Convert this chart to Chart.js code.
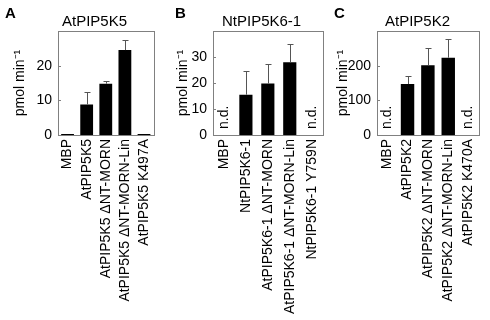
<!DOCTYPE html>
<html>
<head>
<meta charset="utf-8">
<script src="https://cdn.jsdelivr.net/npm/chart.js@4.4.1/dist/chart.umd.min.js"></script>
<style>
  html, body { margin: 0; padding: 0; background: #fff; }
  body { position: relative; width: 490px; height: 320px; overflow: hidden; }
  canvas { position: absolute; top: 0; }
</style>
</head>
<body>
<canvas id="chartA" width="165" height="320" style="left:0px;width:165px;height:320px"></canvas>
<canvas id="chartB" width="168" height="320" style="left:165px;width:168px;height:320px"></canvas>
<canvas id="chartC" width="157" height="320" style="left:333px;width:157px;height:320px"></canvas>
<script>
// Panel A - AtPIP5K5
const labelsA = ['MBP', 'AtPIP5K5', 'AtPIP5K5 ΔNT-MORN', 'AtPIP5K5 ΔNT-MORN-Lin', 'AtPIP5K5 K497A'];
const valuesA = [0.3, 8.8, 14.8, 24.5, 0.3];
const errorsA = [0, 3.6, 0.9, 2.9, 0];
const ticksA = [0, 10, 20];

// Panel B - NtPIP5K6-1 (null = n.d.)
const labelsB = ['MBP', 'NtPIP5K6-1', 'AtPIP5K6-1 ΔNT-MORN', 'AtPIP5K6-1 ΔNT-MORN-Lin', 'NtPIP5K6-1 Y759N'];
const valuesB = [null, 15.5, 19.8, 28, null];
const errorsB = [0, 9.1, 7.4, 7, 0];
const ticksB = [0, 10, 20, 30];

// Panel C - AtPIP5K2 (null = n.d.)
const labelsC = ['MBP', 'AtPIP5K2', 'AtPIP5K2 ΔNT-MORN', 'AtPIP5K2 ΔNT-MORN-Lin', 'AtPIP5K2 K470A'];
const valuesC = [null, 147, 201, 223, null];
const errorsC = [0, 22, 49, 53, 0];
const ticksC = [0, 100, 200];

const FONT = 'Arial, "Liberation Sans", Helvetica, sans-serif';

// draws frame, inner ticks, error bars, n.d. marks, title and panel letter
const panelDecor = {
    id: 'panelDecor',
    afterDatasetsDraw(chart) {
        const ctx = chart.ctx;
        const area = chart.chartArea;
        const x = chart.scales.x;
        const y = chart.scales.y;
        const p = chart.options.plugins.panelDecor;

        // error bars
        ctx.save();
        ctx.strokeStyle = '#555';
        ctx.lineWidth = 1;
        p.values.forEach(function (v, i) {
            if (v === null || !p.errors[i]) return;
            const cx = Math.round(x.getPixelForValue(i)) + 0.5;
            const y0 = y.getPixelForValue(v);
            const y1 = Math.round(y.getPixelForValue(v + p.errors[i])) + 0.5;
            ctx.beginPath();
            ctx.moveTo(cx, y0);
            ctx.lineTo(cx, y1);
            ctx.moveTo(cx - 3, y1);
            ctx.lineTo(cx + 3, y1);
            ctx.stroke();
        });

        // n.d. labels
        ctx.fillStyle = '#000';
        ctx.font = '14px ' + FONT;
        ctx.textAlign = 'left';
        ctx.textBaseline = 'middle';
        p.values.forEach(function (v, i) {
            if (v !== null) return;
            const cx = x.getPixelForValue(i);
            ctx.save();
            ctx.translate(cx, y.getPixelForValue(0) - 6);
            ctx.rotate(-Math.PI / 2);
            ctx.fillText('n.d.', 0, 0);
            ctx.restore();
        });

        // frame
        ctx.strokeStyle = '#808080';
        ctx.strokeRect(Math.round(area.left) + 0.5, Math.round(area.top) + 0.5,
            Math.round(area.right - area.left), Math.round(area.bottom - area.top));

        // inward tick marks
        y.ticks.forEach(function (t) {
            const ty = Math.round(y.getPixelForValue(t.value)) + 0.5;
            ctx.beginPath();
            ctx.moveTo(area.left, ty);
            ctx.lineTo(area.left + 3, ty);
            ctx.stroke();
        });

        // title
        ctx.fillStyle = '#000';
        ctx.font = '15px ' + FONT;
        ctx.textBaseline = 'alphabetic';
        ctx.fillText(p.title, area.left + p.titleDx, 26);

        // panel letter
        ctx.font = 'bold 15px ' + FONT;
        ctx.fillText(p.letter, p.letterX, 18);
        ctx.restore();
    }
};

function makePanel(canvasId, labels, values, errors, ticks, max, opts) {
    const ctx = document.getElementById(canvasId).getContext('2d');
    return new Chart(ctx, {
        type: 'bar',
        data: {
            labels: labels,
            datasets: [{
                data: values,
                backgroundColor: '#000',
                borderWidth: 0,
                barPercentage: opts.barPct,
                categoryPercentage: 1
            }]
        },
        options: {
            responsive: false,
            animation: false,
            layout: { padding: { left: 0, right: opts.padRight, top: 31, bottom: 0 } },
            plugins: {
                legend: { display: false },
                tooltip: { enabled: false },
                panelDecor: {
                    values: values, errors: errors, title: opts.title,
                    titleDx: opts.titleDx, letter: opts.letter, letterX: opts.letterX
                }
            },
            scales: {
                x: {
                    grid: { display: false, drawTicks: false },
                    border: { display: false },
                    ticks: {
                        color: '#000', font: { family: FONT, size: 14 },
                        minRotation: 90, maxRotation: 90, padding: 4, autoSkip: false
                    },
                    afterFit: function (scale) { scale.height = 185; }
                },
                y: {
                    min: 0, max: max,
                    grid: { display: false, drawTicks: false },
                    border: { display: false },
                    ticks: { color: '#000', font: { family: FONT, size: 14 }, padding: 6 },
                    afterBuildTicks: function (scale) {
                        scale.ticks = ticks.map(function (v) { return { value: v }; });
                    },
                    title: {
                        display: true, text: 'pmol min⁻¹', color: '#000',
                        font: { family: FONT, size: 14 }, padding: { top: opts.yTitlePad, bottom: 0 }
                    },
                    afterFit: function (scale) { scale.width = opts.yWidth; }
                }
            }
        },
        plugins: [panelDecor]
    });
}

makePanel('chartA', labelsA, valuesA, errorsA, ticksA, 30,
    { barPct: 0.67, padRight: 2, yWidth: 58, yTitlePad: 12, title: 'AtPIP5K5', titleDx: 4, letter: 'A', letterX: 5 });
makePanel('chartB', labelsB, valuesB, errorsB, ticksB, 40,
    { barPct: 0.6, padRight: 5, yWidth: 48, yTitlePad: 10, title: 'NtPIP5K6-1', titleDx: 9, letter: 'B', letterX: 10 });
makePanel('chartC', labelsC, valuesC, errorsC, ticksC, 300,
    { barPct: 0.66, padRight: 6, yWidth: 44, yTitlePad: 2, title: 'AtPIP5K2', titleDx: 8, letter: 'C', letterX: 1 });
</script>
</body>
</html>
